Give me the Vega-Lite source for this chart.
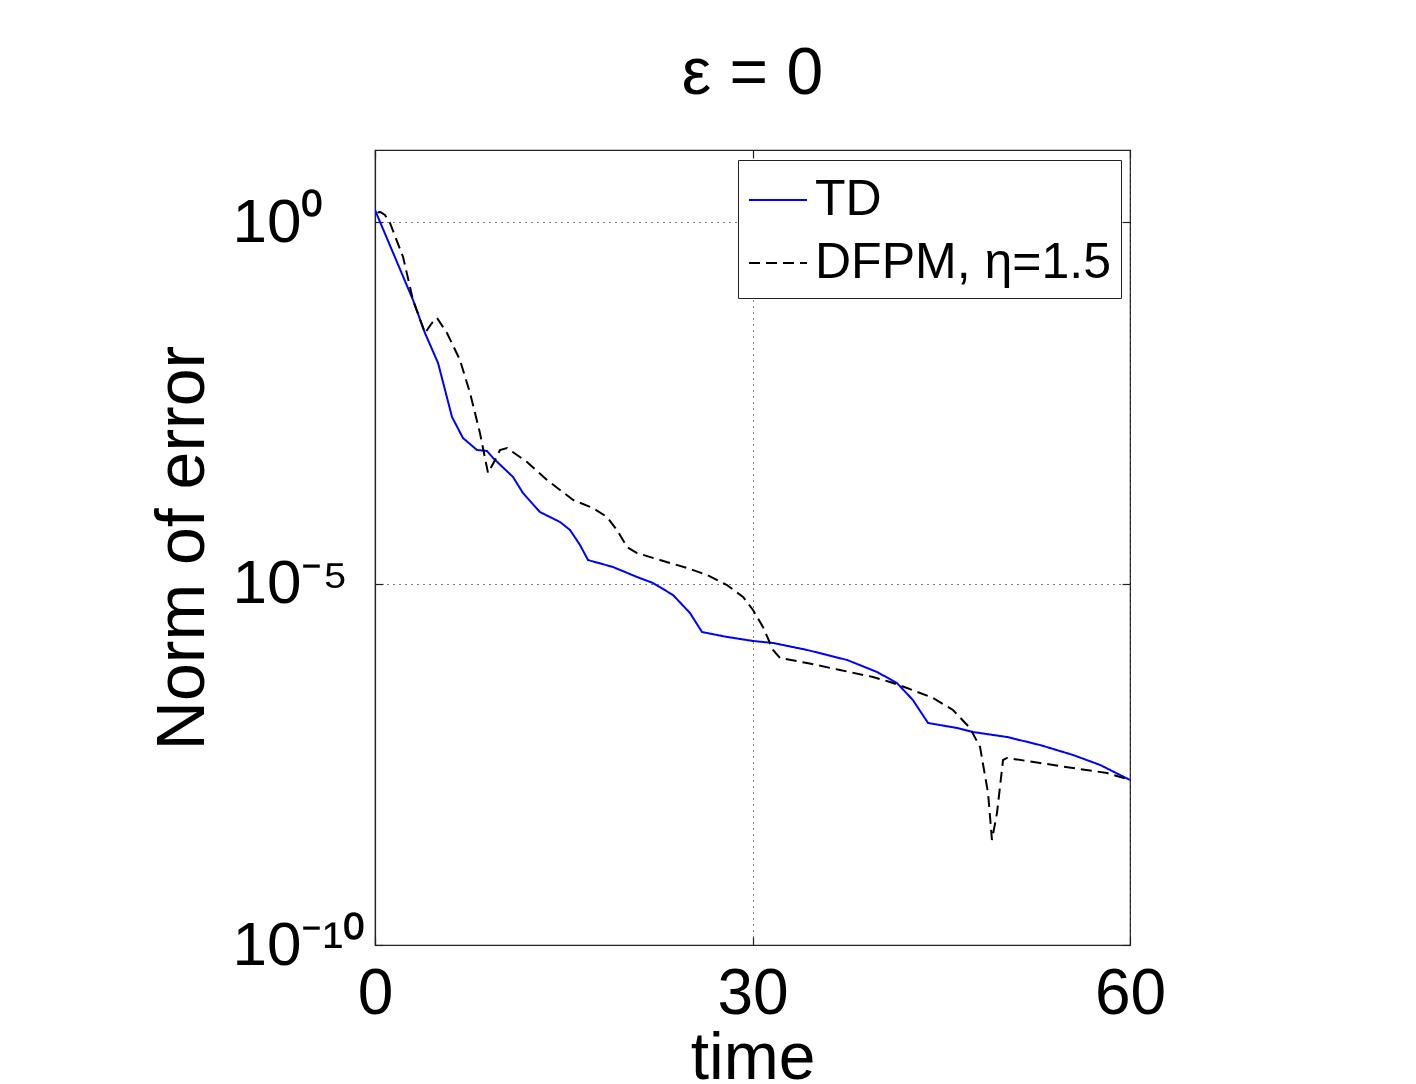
{
  "$schema": "https://vega.github.io/schema/vega-lite/v6.json",
  "width": 755,
  "height": 795,
  "autosize": {"type": "none"},
  "padding": {"left": 375, "top": 150, "right": 286, "bottom": 139},
  "background": "white",
  "config": {
    "font": "Liberation Sans",
    "view": {"stroke": "#222", "strokeWidth": 1.2}
  },
  "title": {"text": "ε = 0", "fontSize": 66, "fontWeight": "normal", "offset": 41, "color": "black", "font": "Liberation Sans"},
  "datasets": {
    "curves": [
      {"t": 0, "err": 1.479, "method": "TD"},
      {"t": 3.02, "err": 0.0841, "method": "TD"},
      {"t": 3.97, "err": 0.02938, "method": "TD"},
      {"t": 5.01, "err": 0.0113, "method": "TD"},
      {"t": 6.12, "err": 0.002023, "method": "TD"},
      {"t": 6.99, "err": 0.001035, "method": "TD"},
      {"t": 8.11, "err": 0.000706, "method": "TD"},
      {"t": 8.9, "err": 0.000684, "method": "TD"},
      {"t": 9.38, "err": 0.000548, "method": "TD"},
      {"t": 10.97, "err": 0.000299, "method": "TD"},
      {"t": 11.76, "err": 0.0001795, "method": "TD"},
      {"t": 13.11, "err": 9.79e-5, "method": "TD"},
      {"t": 14.7, "err": 7.13e-5, "method": "TD"},
      {"t": 15.5, "err": 5.52e-5, "method": "TD"},
      {"t": 16.29, "err": 3.43e-5, "method": "TD"},
      {"t": 16.93, "err": 2.12e-5, "method": "TD"},
      {"t": 18.91, "err": 1.7e-5, "method": "TD"},
      {"t": 20.82, "err": 1.236e-5, "method": "TD"},
      {"t": 22.09, "err": 1.021e-5, "method": "TD"},
      {"t": 23.68, "err": 6.97e-6, "method": "TD"},
      {"t": 25.03, "err": 3.93e-6, "method": "TD"},
      {"t": 25.99, "err": 2.14e-6, "method": "TD"},
      {"t": 27.97, "err": 1.83e-6, "method": "TD"},
      {"t": 30.04, "err": 1.61e-6, "method": "TD"},
      {"t": 31.63, "err": 1.51e-6, "method": "TD"},
      {"t": 34.33, "err": 1.21e-6, "method": "TD"},
      {"t": 37.51, "err": 8.79e-7, "method": "TD"},
      {"t": 39.89, "err": 6.0e-7, "method": "TD"},
      {"t": 41.48, "err": 4.22e-7, "method": "TD"},
      {"t": 42.75, "err": 2.45e-7, "method": "TD"},
      {"t": 43.95, "err": 1.18e-7, "method": "TD"},
      {"t": 46.25, "err": 1.007e-7, "method": "TD"},
      {"t": 47.52, "err": 8.85e-8, "method": "TD"},
      {"t": 50.23, "err": 7.55e-8, "method": "TD"},
      {"t": 52.85, "err": 5.85e-8, "method": "TD"},
      {"t": 55.47, "err": 4.26e-8, "method": "TD"},
      {"t": 57.62, "err": 3.1e-8, "method": "TD"},
      {"t": 60, "err": 1.92e-8, "method": "TD"},
      {"t": 0.2, "err": 1.36, "method": "DFPM, η=1.5"},
      {"t": 0.4, "err": 1.39, "method": "DFPM, η=1.5"},
      {"t": 0.79, "err": 1.262, "method": "DFPM, η=1.5"},
      {"t": 1.19, "err": 0.977, "method": "DFPM, η=1.5"},
      {"t": 2.23, "err": 0.331, "method": "DFPM, η=1.5"},
      {"t": 3.02, "err": 0.0841, "method": "DFPM, η=1.5"},
      {"t": 3.97, "err": 0.02938, "method": "DFPM, η=1.5"},
      {"t": 4.53, "err": 0.0405, "method": "DFPM, η=1.5"},
      {"t": 4.93, "err": 0.0474, "method": "DFPM, η=1.5"},
      {"t": 5.72, "err": 0.02938, "method": "DFPM, η=1.5"},
      {"t": 6.75, "err": 0.01245, "method": "DFPM, η=1.5"},
      {"t": 7.55, "err": 0.004345, "method": "DFPM, η=1.5"},
      {"t": 8.34, "err": 0.001216, "method": "DFPM, η=1.5"},
      {"t": 8.98, "err": 0.00034, "method": "DFPM, η=1.5"},
      {"t": 9.54, "err": 0.000514, "method": "DFPM, η=1.5"},
      {"t": 9.93, "err": 0.000706, "method": "DFPM, η=1.5"},
      {"t": 10.49, "err": 0.000753, "method": "DFPM, η=1.5"},
      {"t": 12.08, "err": 0.000482, "method": "DFPM, η=1.5"},
      {"t": 13.67, "err": 0.000272, "method": "DFPM, η=1.5"},
      {"t": 15.74, "err": 0.0001439, "method": "DFPM, η=1.5"},
      {"t": 17.32, "err": 0.0001114, "method": "DFPM, η=1.5"},
      {"t": 18.44, "err": 8.36e-5, "method": "DFPM, η=1.5"},
      {"t": 19.23, "err": 5.52e-5, "method": "DFPM, η=1.5"},
      {"t": 20.03, "err": 3.21e-5, "method": "DFPM, η=1.5"},
      {"t": 20.82, "err": 2.65e-5, "method": "DFPM, η=1.5"},
      {"t": 22.65, "err": 2.12e-5, "method": "DFPM, η=1.5"},
      {"t": 24.79, "err": 1.65e-5, "method": "DFPM, η=1.5"},
      {"t": 26.38, "err": 1.318e-5, "method": "DFPM, η=1.5"},
      {"t": 27.97, "err": 9.57e-6, "method": "DFPM, η=1.5"},
      {"t": 29.25, "err": 6.53e-6, "method": "DFPM, η=1.5"},
      {"t": 30.04, "err": 4.32e-6, "method": "DFPM, η=1.5"},
      {"t": 30.83, "err": 2.51e-6, "method": "DFPM, η=1.5"},
      {"t": 31.63, "err": 1.21e-6, "method": "DFPM, η=1.5"},
      {"t": 32.19, "err": 9.35e-7, "method": "DFPM, η=1.5"},
      {"t": 34.33, "err": 7.98e-7, "method": "DFPM, η=1.5"},
      {"t": 36.95, "err": 6.38e-7, "method": "DFPM, η=1.5"},
      {"t": 39.58, "err": 5.11e-7, "method": "DFPM, η=1.5"},
      {"t": 40.93, "err": 4.36e-7, "method": "DFPM, η=1.5"},
      {"t": 42.28, "err": 3.6e-7, "method": "DFPM, η=1.5"},
      {"t": 44.34, "err": 2.62e-7, "method": "DFPM, η=1.5"},
      {"t": 45.93, "err": 1.786e-7, "method": "DFPM, η=1.5"},
      {"t": 47.28, "err": 1.007e-7, "method": "DFPM, η=1.5"},
      {"t": 48.08, "err": 5.5e-8, "method": "DFPM, η=1.5"},
      {"t": 48.72, "err": 1.268e-8, "method": "DFPM, η=1.5"},
      {"t": 49.03, "err": 2.84e-9, "method": "DFPM, η=1.5"},
      {"t": 49.43, "err": 6.7e-9, "method": "DFPM, η=1.5"},
      {"t": 49.91, "err": 3.63e-8, "method": "DFPM, η=1.5"},
      {"t": 50.23, "err": 3.87e-8, "method": "DFPM, η=1.5"},
      {"t": 52.85, "err": 3.3e-8, "method": "DFPM, η=1.5"},
      {"t": 55.47, "err": 2.81e-8, "method": "DFPM, η=1.5"},
      {"t": 58.17, "err": 2.4e-8, "method": "DFPM, η=1.5"},
      {"t": 60, "err": 1.92e-8, "method": "DFPM, η=1.5"}
    ]
  },
  "data": {"name": "curves"},
  "layer": [
    {
      "transform": [{"filter": "datum.method === 'TD'"}],
      "mark": {"type": "line", "strokeWidth": 2, "clip": true},
      "encoding": {
        "x": {
          "field": "t", "type": "quantitative",
          "scale": {"domain": [0, 60], "nice": false, "zero": false},
          "axis": {
            "orient": "bottom", "title": "time", "values": [0, 30, 60],
            "grid": true, "gridDash": [1, 5], "gridColor": "#000", "gridWidth": 1,
            "domainColor": "#222", "domainWidth": 1.2,
            "ticks": true, "tickSize": -8, "tickColor": "#222", "tickWidth": 1.2,
            "labelFontSize": 64, "labelColor": "black", "labelPadding": 25, "labelFlush": false,
            "titleFontSize": 66, "titleFontWeight": "normal", "titleColor": "black", "titlePadding": 0
          }
        },
        "y": {
          "field": "err", "type": "quantitative",
          "scale": {"type": "log", "domain": [1e-10, 10], "nice": false},
          "axis": {
            "orient": "left", "title": "Norm of error", "values": [1e-10, 1e-5, 1],
            "labelExpr": "datum.value > 0.1 ? '10⁰' : (datum.value > 1e-7 ? '10⁻⁵' : '10⁻¹⁰')",
            "grid": true, "gridDash": [1, 5], "gridColor": "#000", "gridWidth": 1,
            "domainColor": "#222", "domainWidth": 1.2,
            "ticks": true, "tickSize": -8, "tickColor": "#222", "tickWidth": 1.2,
            "labelFontSize": 62, "labelColor": "black", "labelAlign": "left", "labelPadding": 151,
            "labelBaseline": "middle", "labelFlush": false,
            "titleFontSize": 68, "titleFontWeight": "normal", "titleColor": "black", "titlePadding": 15
          }
        },
        "color": {
          "field": "method", "type": "nominal",
          "scale": {"domain": ["TD", "DFPM, η=1.5"], "range": ["#0000FF", "#000000"]},
          "legend": {
            "title": null, "orient": "none", "legendX": 363, "legendY": 10,
            "strokeColor": "#222", "fillColor": "white", "padding": 10,
            "symbolType": "stroke", "symbolSize": 3364, "symbolStrokeWidth": 2,
            "labelFontSize": 50, "labelColor": "black", "labelOffset": 7, "rowPadding": 8,
            "labelLimit": 500
          }
        },
        "strokeDash": {
          "field": "method", "type": "nominal",
          "scale": {"domain": ["TD", "DFPM, η=1.5"], "range": [[1, 0], [11, 6]]},
          "legend": {
            "title": null, "orient": "none", "legendX": 363, "legendY": 10,
            "strokeColor": "#222", "fillColor": "white", "padding": 10,
            "symbolType": "stroke", "symbolSize": 3364, "symbolStrokeWidth": 2,
            "labelFontSize": 50, "labelColor": "black", "labelOffset": 7, "rowPadding": 8,
            "labelLimit": 500
          }
        }
      }
    },
    {
      "transform": [{"filter": "datum.method !== 'TD'"}],
      "mark": {"type": "line", "strokeWidth": 2, "clip": true},
      "encoding": {
        "x": {
          "field": "t", "type": "quantitative",
          "scale": {"domain": [0, 60], "nice": false, "zero": false},
          "axis": {
            "orient": "top", "title": null, "values": [0, 30, 60], "labels": false,
            "grid": false, "domain": false,
            "ticks": true, "tickSize": -8, "tickColor": "#222", "tickWidth": 1.2
          }
        },
        "y": {
          "field": "err", "type": "quantitative",
          "scale": {"type": "log", "domain": [1e-10, 10], "nice": false},
          "axis": {
            "orient": "right", "title": null, "values": [1e-10, 1e-5, 1], "labels": false,
            "grid": false, "domain": false,
            "ticks": true, "tickSize": -8, "tickColor": "#222", "tickWidth": 1.2
          }
        },
        "color": {"field": "method", "type": "nominal"},
        "strokeDash": {"field": "method", "type": "nominal"}
      }
    }
  ],
  "resolve": {"axis": {"x": "independent", "y": "independent"}}
}
